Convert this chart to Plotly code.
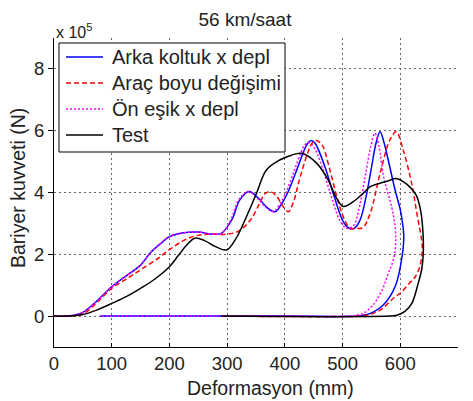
import plotly.graph_objects as go

# Deformation (mm) and barrier force (x 1e5 N)
arka_x = [0, 20, 35, 50, 75, 100, 125, 150, 167, 185, 200, 225, 250, 275, 290, 308, 322, 338, 355, 370, 383, 395, 405, 420, 432, 440, 446, 452, 460, 470, 485, 500, 510, 520, 530, 540, 550, 558, 565, 572, 579, 591, 600, 604, 606, 605, 602, 598, 592, 582, 570, 559, 547, 536, 525, 400, 300, 200, 80]
arka_y = [0, 0, 0.03, 0.12, 0.5, 0.95, 1.3, 1.65, 2.05, 2.35, 2.57, 2.7, 2.72, 2.65, 2.68, 3.11, 3.76, 4.03, 3.8, 3.5, 3.38, 3.65, 4.0, 4.7, 5.3, 5.6, 5.68, 5.6, 5.3, 4.8, 3.9, 3.1, 2.86, 2.84, 3.1, 3.8, 4.8, 5.6, 5.97, 5.6, 5.06, 4.08, 3.44, 3.0, 2.6, 2.2, 1.8, 1.4, 1.0, 0.63, 0.35, 0.19, 0.08, 0.03, 0, 0, 0, 0, 0]

arac_x = [0, 25, 40, 55, 75, 100, 125, 150, 175, 200, 225, 250, 275, 300, 320, 340, 355, 365, 374, 385, 395, 406, 415, 425, 440, 448, 454, 462, 467, 478, 490, 501, 513, 524, 535, 548, 565, 582, 593, 605, 617, 623, 628, 634, 638, 637, 632, 625, 615, 600, 591, 578, 565, 550, 542, 530, 300]
arac_y = [0, 0, 0.03, 0.12, 0.45, 0.9, 1.2, 1.5, 1.8, 2.15, 2.45, 2.62, 2.65, 2.65, 2.75, 3.1, 3.6, 3.95, 4.03, 3.9, 3.6, 3.38, 3.7, 4.4, 5.3, 5.62, 5.68, 5.6, 5.45, 4.73, 3.87, 3.22, 2.84, 2.84, 2.86, 3.33, 4.62, 5.7, 5.97, 5.38, 4.52, 3.98, 3.4, 2.8, 2.3, 1.9, 1.5, 1.25, 1.05, 0.74, 0.63, 0.4, 0.19, 0.07, 0.03, 0, 0]

on_x = [0, 20, 35, 50, 75, 100, 125, 150, 167, 185, 200, 225, 250, 275, 290, 306, 320, 336, 353, 368, 380, 392, 402, 416, 428, 435, 441, 447, 455, 465, 480, 495, 505, 512, 520, 530, 540, 549, 556, 563, 571, 585, 591, 592, 590, 585, 579, 571, 559, 550, 536, 524, 515, 400, 300, 200, 80]
on_y = [0, 0, 0.03, 0.12, 0.5, 0.95, 1.3, 1.65, 2.05, 2.35, 2.57, 2.7, 2.72, 2.65, 2.68, 3.11, 3.76, 4.03, 3.8, 3.5, 3.38, 3.65, 4.0, 4.7, 5.3, 5.55, 5.62, 5.55, 5.3, 4.8, 3.9, 3.1, 2.86, 2.84, 2.95, 3.6, 4.6, 5.5, 5.92, 5.5, 4.52, 3.54, 2.9, 2.4, 2.0, 1.65, 1.38, 0.95, 0.52, 0.3, 0.09, 0.03, 0, 0, 0, 0, 0]

test_x = [0, 25, 50, 75, 100, 125, 150, 175, 200, 215, 230, 244, 260, 280, 299, 315, 333, 351, 368, 392, 410, 429, 455, 475, 490, 501, 518, 536, 548, 565, 580, 592, 605, 618, 628, 635, 639, 640, 637, 631, 620, 608, 594, 580, 290]
test_y = [0, 0, 0.05, 0.2, 0.41, 0.63, 0.9, 1.2, 1.6, 1.95, 2.3, 2.52, 2.45, 2.25, 2.14, 2.5, 3.2, 3.98, 4.73, 5.06, 5.2, 5.27, 4.95, 4.41, 3.8, 3.55, 3.7, 3.98, 4.19, 4.3, 4.38, 4.45, 4.35, 4.15, 3.9, 3.44, 2.8, 2.14, 1.5, 1.06, 0.41, 0.15, 0.03, 0, 0]

series_names = ["Arka koltuk x depl", "Araç boyu değişimi", "Ön eşik x depl", "Test"]
x_ticks = [0, 100, 200, 300, 400, 500, 600, 700]
y_ticks = [0, 2, 4, 6, 8]

FONT = "Liberation Sans, Arial, sans-serif"
TXT = "#222222"

# plot area in pixels
L, R, T, B = 54, 458, 38, 347
def px(xp):
    return (xp - L) / (R - L)
def py(yp):
    return (B - yp) / (B - T)

styles = [
    dict(color="#0000FF", width=1.5, dash="solid"),
    dict(color="#FF0000", width=1.5, dash="5px,3px"),
    dict(color="#FF00FF", width=1.5, dash="2px,2px"),
    dict(color="#000000", width=1.5, dash="solid"),
]
data = [(arka_x, arka_y), (arac_x, arac_y), (on_x, on_y), (test_x, test_y)]

fig = go.Figure()
for (xs, ys), name, st in zip(data, series_names, styles):
    fig.add_trace(go.Scatter(x=xs, y=ys, mode="lines", name=name, showlegend=False,
                             line=dict(color=st["color"], width=st["width"], dash=st["dash"],
                                       shape="spline", smoothing=1.0)))

shapes = [dict(type="rect", xref="paper", yref="paper", x0=px(59), x1=px(285), y0=py(152), y1=py(43),
               line=dict(color="black", width=1), fillcolor="white", layer="above")]
annotations = []
entry_y = [57, 83, 109, 135]
for name, st, ey in zip(series_names, styles, entry_y):
    shapes.append(dict(type="line", xref="paper", yref="paper", x0=px(66), x1=px(103), y0=py(ey), y1=py(ey),
                       line=dict(color=st["color"], width=st["width"], dash=st["dash"]), layer="above"))
    annotations.append(dict(text=name, xref="paper", yref="paper", x=px(110), y=py(ey),
                            xanchor="left", yanchor="middle", showarrow=False,
                            font=dict(size=20, family=FONT, color=TXT)))

annotations += [
    dict(text="x 10<sup>5</sup>", xref="paper", yref="paper", x=0.0, y=1.0, yshift=-5,
         xanchor="left", yanchor="bottom", showarrow=False, font=dict(size=16, family=FONT, color=TXT)),
    dict(text="Deformasyon (mm)", xref="paper", yref="paper", x=px(270), y=py(388),
         xanchor="center", yanchor="middle", showarrow=False, font=dict(size=19.5, family=FONT, color=TXT)),
    dict(text="Bariyer kuvveti (N)", xref="paper", yref="paper", x=px(18), y=py(188), textangle=-90,
         xanchor="center", yanchor="middle", showarrow=False, font=dict(size=19.5, family=FONT, color=TXT)),
]

fig.update_layout(
    width=473, height=401,
    margin=dict(l=L, r=473 - R, t=T, b=401 - B),
    paper_bgcolor="white", plot_bgcolor="white",
    font=dict(family=FONT, color=TXT, size=18.5),
    title=dict(text="56 km/saat", x=245 / 473, xanchor="center", y=1 - 19 / 401, yanchor="middle",
               font=dict(size=19, family=FONT, color=TXT)),
    showlegend=False,
    shapes=shapes,
    annotations=annotations,
)
fig.update_xaxes(range=[0, 700], tickvals=x_ticks, ticks="inside", ticklen=4, tickcolor="black",
                 showline=True, linecolor="black", linewidth=1, mirror=False,
                 showgrid=True, gridcolor="#666666", griddash="2px,3px", gridwidth=1, zeroline=False,
                 ticklabelstandoff=0, tickfont=dict(size=18.5, family=FONT, color=TXT))
fig.update_yaxes(range=[-1, 9], tickvals=y_ticks, ticks="outside", ticklen=5, tickcolor="black",
                 showline=True, linecolor="black", linewidth=1, mirror=False,
                 showgrid=True, gridcolor="#666666", griddash="2px,3px", gridwidth=1, zeroline=False,
                 tickfont=dict(size=18.5, family=FONT, color=TXT))

fig.write_html("out.html")
